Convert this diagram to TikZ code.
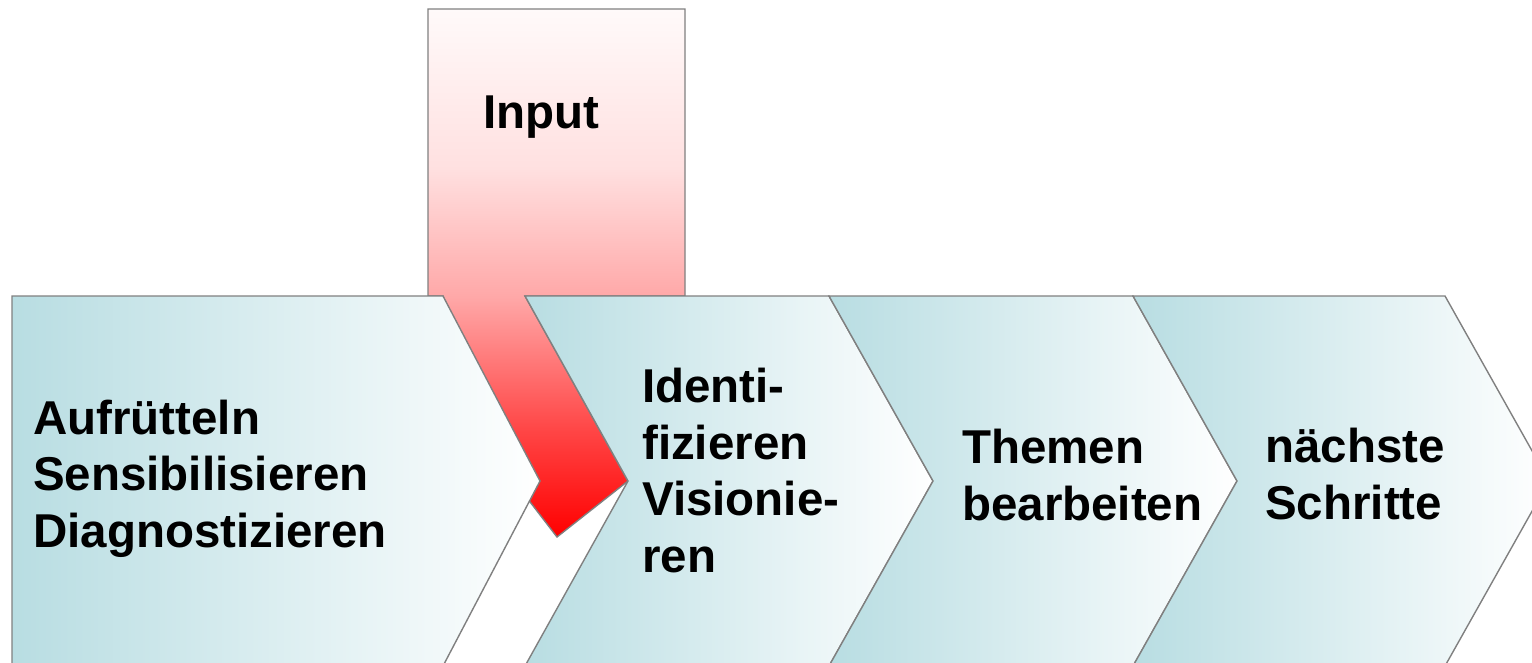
\documentclass[tikz,border=0pt]{standalone}
\usepackage{fontspec}
\setmainfont{Liberation Sans}
\definecolor{teal0}{RGB}{184,221,226}
\definecolor{edgegray}{RGB}{128,128,128}
\pgfdeclareverticalshading{inputshade}{100bp}{color(0bp)=(red); color(25bp)=(red); color(35bp)=(red!73!white); color(47.8bp)=(red!34!white); color(60bp)=(red!12!white); color(75bp)=(red!2!white); color(100bp)=(red!2!white)}
\tikzset{
  chev/.style={draw=edgegray, line width=1.4pt, line join=miter, left color=teal0, right color=white},
  inbox/.style={draw=edgegray, line width=1.4pt, shading=inputshade},
  lbl/.style={font=\fontsize{47.5}{56.5}\selectfont\bfseries, align=left, inner sep=0pt, anchor=base west, text=black}
}
\begin{document}
\begin{tikzpicture}[x=1pt,y=-1pt]
\useasboundingbox (0,0) rectangle (1532,662);
\clip (0,0) rectangle (1532,662);
\fill[white] (0,0) rectangle (1532,662);
% input arrow
\path[inbox] (428,9) -- (685,9) -- (685,296) -- (525,296) -- (628,481) -- (557,537) -- (514,481) -- (443,296) -- (428,296) -- cycle;
% chevrons
\path[chev] (12,296) -- (443,296) -- (540,481) -- (443,666) -- (12,666) -- cycle;
\path[chev] (525,296) -- (829,296) -- (933,481) -- (829,666) -- (525,666) -- (628,481) -- cycle;
\path[chev] (829,296) -- (1133,296) -- (1237,481) -- (1133,666) -- (829,666) -- (933,481) -- cycle;
\path[chev] (1133,296) -- (1445,296) -- (1549,481) -- (1445,666) -- (1133,666) -- (1237,481) -- cycle;
% labels (anchor = baseline of the last line)
\node[lbl] (input) at (483,128) {Input};
\node[lbl] (step1) at (33,547) {Aufrütteln\\Sensibilisieren\\Diagnostizieren};
\node[lbl] (step2) at (642,572) {Identi-\\fizieren\\Visionie-\\ren};
\node[lbl] (step3) at (962,520) {Themen\\bearbeiten};
\node[lbl] (step4) at (1265,519) {nächste\\Schritte};
\end{tikzpicture}
\end{document}
